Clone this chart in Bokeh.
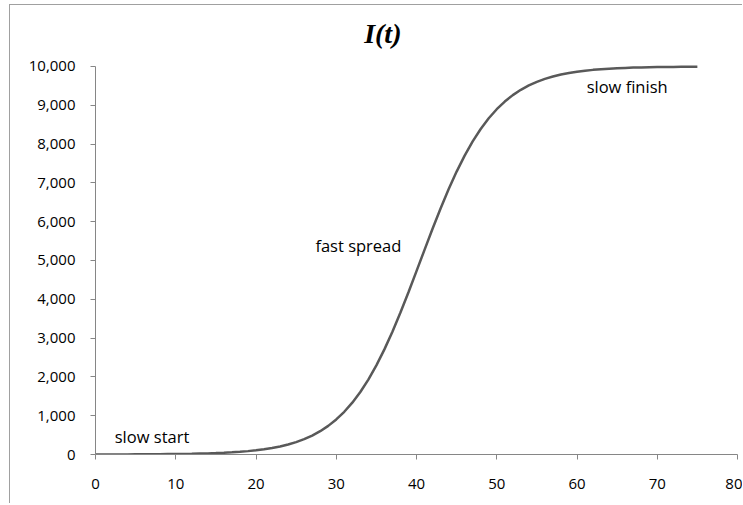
from bokeh.plotting import figure
from bokeh.models import ColumnDataSource, Label, NumeralTickFormatter, FixedTicker, Range1d
from bokeh.embed import file_html
from bokeh.resources import INLINE

t_values = list(range(0, 76))
infected = [1, 2, 2, 3, 3, 4, 5, 6, 8, 10,
            12, 15, 19, 24, 29, 36, 45, 57, 70, 87,
            109, 135, 168, 208, 258, 320, 395, 488, 601, 738,
            903, 1101, 1335, 1611, 1931, 2297, 2709, 3165, 3659, 4182,
            4725, 5275, 5818, 6341, 6835, 7291, 7703, 8069, 8389, 8665,
            8899, 9097, 9262, 9399, 9512, 9605, 9680, 9742, 9792, 9832,
            9865, 9891, 9913, 9930, 9944, 9955, 9964, 9971, 9977, 9981,
            9985, 9988, 9990, 9992, 9994, 9995]
x_ticks = [0, 10, 20, 30, 40, 50, 60, 70, 80]
y_ticks = [0, 1000, 2000, 3000, 4000, 5000, 6000, 7000, 8000, 9000, 10000]
title_text = "I(t)"
notes = ["slow start", "fast spread", "slow finish"]

src = ColumnDataSource(data=dict(t=t_values, i=infected))

# the frame extends above the 10,000 line to leave room for the title
p = figure(width=733, height=499, output_backend="svg", toolbar_location=None,
           x_range=Range1d(0, 80), y_range=Range1d(0, 11340),
           min_border_left=85, min_border_right=6, min_border_top=9, min_border_bottom=50)

p.line("t", "i", source=src, line_color="#595959", line_width=2.5)

p.xgrid.visible = False
p.ygrid.visible = False
p.outline_line_color = None
p.background_fill_color = "white"
p.border_fill_color = "white"

for ax in (p.xaxis[0], p.yaxis[0]):
    ax.axis_line_color = "#868686"
    ax.major_tick_line_color = "#868686"
    ax.minor_tick_line_color = None
    ax.major_tick_out = 5
    ax.major_tick_in = 0
    ax.major_label_text_font = "Open Sans"
    ax.major_label_text_font_size = "15px"
    ax.major_label_text_color = "#000000"

p.xaxis[0].ticker = FixedTicker(ticks=x_ticks)
p.yaxis[0].ticker = FixedTicker(ticks=y_ticks)
p.yaxis[0].bounds = (0, 10000)
p.yaxis[0].formatter = NumeralTickFormatter(format="0,0")
p.xaxis[0].major_label_standoff = 19
p.yaxis[0].major_label_standoff = 15

# chart title
p.add_layout(Label(x=35.8, y=10850, text=title_text, text_font="Liberation Serif",
                   text_font_style="bold italic", text_font_size="28px",
                   text_align="center", text_baseline="middle", text_color="#000000"))

for txt, x, y in zip(notes, [2.4, 27.4, 61.2], [464, 5390, 9485]):
    p.add_layout(Label(x=x, y=y, text=txt, text_font="Open Sans", text_font_size="16.5px",
                       text_baseline="middle", text_align="left", text_color="#000000"))

p.styles = {"margin-left": "9px", "margin-top": "4px",
            "border-left": "1px solid #a0a0a0", "border-top": "1px solid #a0a0a0"}

open("out.html", "w").write(file_html(p, INLINE))
